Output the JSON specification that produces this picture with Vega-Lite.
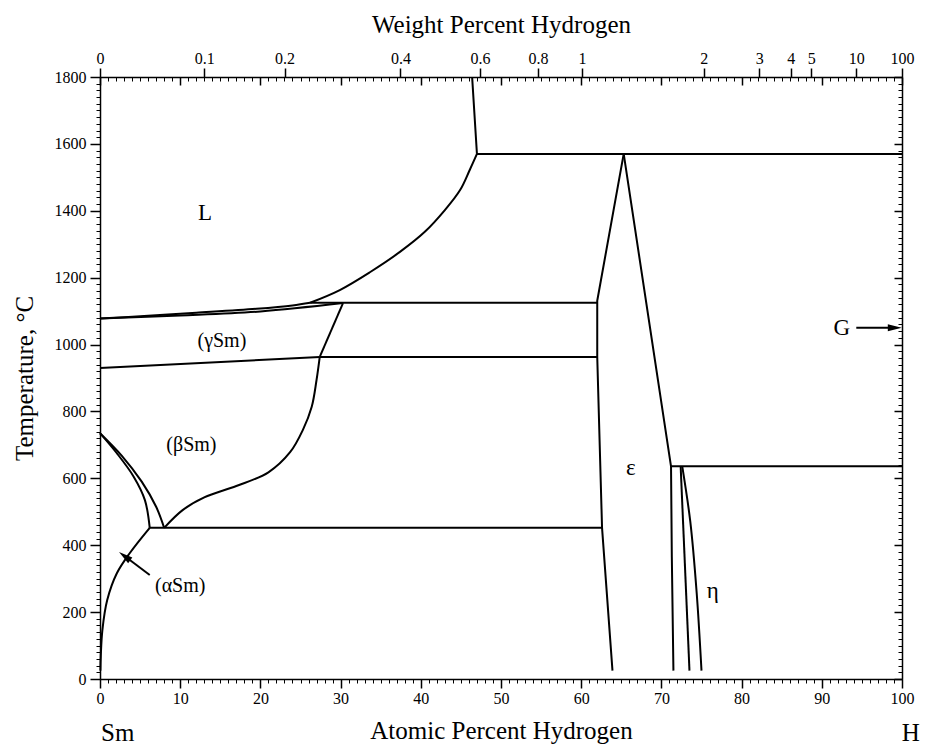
{
  "$schema": "https://vega.github.io/schema/vega-lite/v6.json",
  "width": 802,
  "height": 602,
  "autosize": {"type": "none"},
  "padding": {"left": 100, "top": 77, "right": 23, "bottom": 73},
  "background": "white",
  "config": {
    "view": {"stroke": null},
    "axis": {
      "labelFont": "Liberation Serif",
      "labelFontSize": 16,
      "labelColor": "black",
      "titleFont": "Liberation Serif",
      "titleFontSize": 25,
      "titleFontWeight": "normal",
      "titleColor": "black",
      "domainColor": "black",
      "tickColor": "black",
      "domainWidth": 1.5,
      "tickWidth": 1.5,
      "grid": false
    }
  },
  "datasets": {
    "bounds": [
      {"s": "A", "i": 0, "x": 46.4, "t": 1800}, {"s": "A", "i": 1, "x": 47.0, "t": 1570},
      {"s": "B", "i": 0, "x": 47.0, "t": 1570}, {"s": "B", "i": 1, "x": 100, "t": 1570},
      {"s": "C", "i": 0, "x": 47.0, "t": 1570}, {"s": "C", "i": 1, "x": 46.1, "t": 1522}, {"s": "C", "i": 2, "x": 44.9, "t": 1462}, {"s": "C", "i": 3, "x": 43.0, "t": 1402}, {"s": "C", "i": 4, "x": 40.5, "t": 1337}, {"s": "C", "i": 5, "x": 37.4, "t": 1277}, {"s": "C", "i": 6, "x": 33.7, "t": 1217}, {"s": "C", "i": 7, "x": 29.9, "t": 1163}, {"s": "C", "i": 8, "x": 26.2, "t": 1125},
      {"s": "D", "i": 0, "x": 0, "t": 1078}, {"s": "D", "i": 1, "x": 6, "t": 1086}, {"s": "D", "i": 2, "x": 12, "t": 1095}, {"s": "D", "i": 3, "x": 19.5, "t": 1107}, {"s": "D", "i": 4, "x": 24, "t": 1117}, {"s": "D", "i": 5, "x": 26.2, "t": 1125},
      {"s": "E", "i": 0, "x": 0, "t": 1078}, {"s": "E", "i": 1, "x": 10, "t": 1087}, {"s": "E", "i": 2, "x": 20, "t": 1099}, {"s": "E", "i": 3, "x": 30.3, "t": 1124},
      {"s": "F", "i": 0, "x": 26.2, "t": 1125}, {"s": "F", "i": 1, "x": 62.0, "t": 1125},
      {"s": "G", "i": 0, "x": 30.3, "t": 1124}, {"s": "G", "i": 1, "x": 27.4, "t": 963},
      {"s": "H", "i": 0, "x": 0, "t": 930}, {"s": "H", "i": 1, "x": 27.4, "t": 963},
      {"s": "I", "i": 0, "x": 27.4, "t": 963}, {"s": "I", "i": 1, "x": 62.0, "t": 963},
      {"s": "J", "i": 0, "x": 27.4, "t": 963}, {"s": "J", "i": 1, "x": 27.0, "t": 894}, {"s": "J", "i": 2, "x": 26.4, "t": 814}, {"s": "J", "i": 3, "x": 25.3, "t": 745}, {"s": "J", "i": 4, "x": 23.7, "t": 678}, {"s": "J", "i": 5, "x": 21.0, "t": 618}, {"s": "J", "i": 6, "x": 17.0, "t": 577}, {"s": "J", "i": 7, "x": 13.0, "t": 543}, {"s": "J", "i": 8, "x": 10.3, "t": 505}, {"s": "J", "i": 9, "x": 8.0, "t": 452},
      {"s": "K", "i": 0, "x": 0, "t": 735}, {"s": "K", "i": 1, "x": 2.1, "t": 675}, {"s": "K", "i": 2, "x": 4.2, "t": 605}, {"s": "K", "i": 3, "x": 5.6, "t": 535}, {"s": "K", "i": 4, "x": 6.2, "t": 452},
      {"s": "L", "i": 0, "x": 0, "t": 735}, {"s": "L", "i": 1, "x": 2.7, "t": 668}, {"s": "L", "i": 2, "x": 5.2, "t": 590}, {"s": "L", "i": 3, "x": 7.0, "t": 515}, {"s": "L", "i": 4, "x": 8.0, "t": 452},
      {"s": "M", "i": 0, "x": 6.2, "t": 452}, {"s": "M", "i": 1, "x": 62.6, "t": 452},
      {"s": "N", "i": 0, "x": 6.2, "t": 452}, {"s": "N", "i": 1, "x": 3.7, "t": 376}, {"s": "N", "i": 2, "x": 2.1, "t": 316}, {"s": "N", "i": 3, "x": 0.9, "t": 236}, {"s": "N", "i": 4, "x": 0.3, "t": 147}, {"s": "N", "i": 5, "x": 0.1, "t": 70}, {"s": "N", "i": 6, "x": 0.05, "t": 25},
      {"s": "O", "i": 0, "x": 65.3, "t": 1570}, {"s": "O", "i": 1, "x": 62.0, "t": 1131}, {"s": "O", "i": 2, "x": 62.0, "t": 963}, {"s": "O", "i": 3, "x": 62.6, "t": 452}, {"s": "O", "i": 4, "x": 63.9, "t": 25},
      {"s": "P", "i": 0, "x": 65.3, "t": 1570}, {"s": "P", "i": 1, "x": 71.2, "t": 636}, {"s": "P", "i": 2, "x": 71.3, "t": 365}, {"s": "P", "i": 3, "x": 71.5, "t": 25},
      {"s": "Q", "i": 0, "x": 71.2, "t": 636}, {"s": "Q", "i": 1, "x": 100, "t": 636},
      {"s": "R", "i": 0, "x": 72.4, "t": 636}, {"s": "R", "i": 1, "x": 73.5, "t": 25},
      {"s": "S", "i": 0, "x": 72.6, "t": 636}, {"s": "S", "i": 1, "x": 73.6, "t": 471}, {"s": "S", "i": 2, "x": 74.4, "t": 257}, {"s": "S", "i": 3, "x": 75.0, "t": 25}
    ],
    "arrows": [
      {"s": "a", "i": 0, "x": 6.2, "t": 311}, {"s": "a", "i": 1, "x": 3.1, "t": 367},
      {"s": "g", "i": 0, "x": 94.3, "t": 1050}, {"s": "g", "i": 1, "x": 99.0, "t": 1050}
    ],
    "heads": [
      {"name": "a", "x": 3.07, "t": 367},
      {"name": "g", "x": 99.1, "t": 1050}
    ],
    "labels": [
      {"label": "L", "x": 13.1, "t": 1393},
      {"label": "(γSm)", "x": 15.2, "t": 1010},
      {"label": "(βSm)", "x": 11.4, "t": 700},
      {"label": "(αSm)", "x": 10.0, "t": 277},
      {"label": "ε", "x": 66.2, "t": 630},
      {"label": "η", "x": 76.4, "t": 262},
      {"label": "G", "x": 92.5, "t": 1050}
    ],
    "ends": [
      {"label": "Sm", "x": 2.2, "t": -161},
      {"label": "H", "x": 101.1, "t": -161}
    ]
  },
  "resolve": {"axis": {"x": "independent", "y": "independent"}},
  "layer": [
    {
      "data": {"name": "bounds"},
      "transform": [{"filter": "indexof(['C','D','E','J','K','L','N','S'], datum.s) < 0"}],
      "mark": {"type": "line", "color": "black", "strokeWidth": 2, "strokeJoin": "round"},
      "encoding": {
        "x": {"field": "x", "type": "quantitative", "scale": {"domain": [0, 100], "nice": false, "zero": false},
          "axis": {"orient": "bottom", "values": [0, 10, 20, 30, 40, 50, 60, 70, 80, 90, 100], "tickSize": 9, "labelPadding": 2, "labelFlush": false, "labelOverlap": false, "title": "Atomic Percent Hydrogen", "titlePadding": 12}},
        "y": {"field": "t", "type": "quantitative", "scale": {"domain": [0, 1800], "nice": false, "zero": false},
          "axis": {"orient": "left", "values": [0, 200, 400, 600, 800, 1000, 1200, 1400, 1600, 1800], "format": "d", "tickSize": 10, "labelPadding": 4, "labelFlush": false, "labelOverlap": false, "title": "Temperature, °C", "titlePadding": 17}},
        "detail": {"field": "s"},
        "order": {"field": "i"}
      }
    },
    {
      "data": {"name": "bounds"},
      "transform": [{"filter": "indexof(['C','D','E','J','K','L','N','S'], datum.s) >= 0"}],
      "mark": {"type": "line", "color": "black", "strokeWidth": 2, "interpolate": "catmull-rom"},
      "encoding": {
        "x": {"field": "x", "type": "quantitative", "scale": {"domain": [0, 100], "nice": false, "zero": false}, "axis": null},
        "y": {"field": "t", "type": "quantitative", "scale": {"domain": [0, 1800], "nice": false, "zero": false}, "axis": null},
        "detail": {"field": "s"},
        "order": {"field": "i"}
      }
    },
    {
      "data": {"name": "arrows"},
      "mark": {"type": "line", "color": "black", "strokeWidth": 2},
      "encoding": {
        "x": {"field": "x", "type": "quantitative", "scale": {"domain": [0, 100], "nice": false, "zero": false},
          "axis": {"orient": "bottom", "tickCount": 100, "labels": false, "domain": false, "tickSize": 4, "tickWidth": 1, "title": null}},
        "y": {"field": "t", "type": "quantitative", "scale": {"domain": [0, 1800], "nice": false, "zero": false},
          "axis": {"orient": "left", "tickCount": 90, "labels": false, "domain": false, "tickSize": 4, "tickWidth": 1, "title": null}},
        "detail": {"field": "s"},
        "order": {"field": "i"}
      }
    },
    {
      "data": {"name": "heads"},
      "mark": {"type": "point", "filled": true, "color": "black", "opacity": 1, "shape": "M1,0L-1,-0.5L-1,0.5Z", "size": 196},
      "encoding": {
        "x": {"field": "x", "type": "quantitative", "scale": {"domain": [0, 100], "nice": false, "zero": false},
          "axis": {"orient": "top", "values": [0, 12.99, 23.01, 37.46, 47.38, 54.61, 60.11, 75.27, 82.19, 86.14, 88.70, 94.31, 100], "labelExpr": "datum.value < 5 ? '0' : datum.value < 18 ? '0.1' : datum.value < 30 ? '0.2' : datum.value < 42 ? '0.4' : datum.value < 51 ? '0.6' : datum.value < 57 ? '0.8' : datum.value < 70 ? '1' : datum.value < 79 ? '2' : datum.value < 84 ? '3' : datum.value < 87.5 ? '4' : datum.value < 91 ? '5' : datum.value < 97 ? '10' : '100'", "tickSize": 9, "labelPadding": 2, "labelFlush": false, "labelOverlap": false, "title": "Weight Percent Hydrogen", "titlePadding": 13}},
        "y": {"field": "t", "type": "quantitative", "scale": {"domain": [0, 1800], "nice": false, "zero": false},
          "axis": {"orient": "left", "offset": -802, "tickCount": 9, "labels": false, "domain": true, "tickSize": 8, "title": null}},
        "angle": {"condition": {"test": "datum.name == 'a'", "value": 216.6}, "value": 0}
      }
    },
    {
      "data": {"name": "labels"},
      "mark": {"type": "text", "font": "Liberation Serif", "color": "black", "align": "center", "baseline": "middle"},
      "encoding": {
        "x": {"field": "x", "type": "quantitative", "scale": {"domain": [0, 100], "nice": false, "zero": false},
          "axis": {"orient": "bottom", "offset": -602, "tickCount": 10, "labels": false, "domain": false, "tickSize": 8, "title": null}},
        "y": {"field": "t", "type": "quantitative", "scale": {"domain": [0, 1800], "nice": false, "zero": false},
          "axis": {"orient": "left", "offset": -802, "tickCount": 90, "labels": false, "domain": false, "tickSize": 4, "tickWidth": 1, "title": null}},
        "text": {"field": "label"},
        "size": {"condition": {"test": "datum.label == 'L' || datum.label == 'G' || datum.label == 'ε' || datum.label == 'η'", "value": 23}, "value": 20}
      }
    },
    {
      "data": {"name": "ends"},
      "mark": {"type": "text", "font": "Liberation Serif", "color": "black", "align": "center", "baseline": "middle", "fontSize": 25},
      "encoding": {
        "x": {"field": "x", "type": "quantitative", "scale": {"domain": [0, 100], "nice": false, "zero": false},
          "axis": {"orient": "bottom", "offset": -602, "tickCount": 100, "labels": false, "domain": false, "tickSize": 4, "tickWidth": 1, "title": null}},
        "y": {"field": "t", "type": "quantitative", "scale": {"domain": [0, 1800], "nice": false, "zero": false}, "axis": null},
        "text": {"field": "label"}
      }
    }
  ]
}
